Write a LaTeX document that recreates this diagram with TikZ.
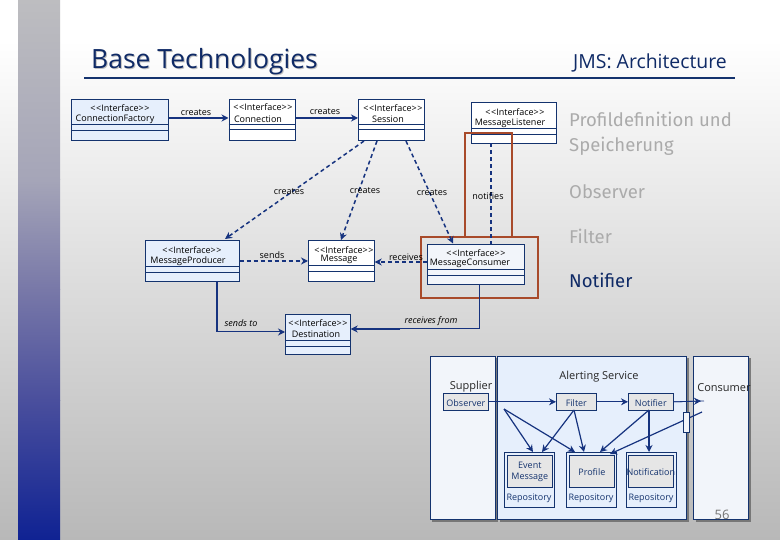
\documentclass[tikz,border=0pt]{standalone}
\usepackage{fontspec}
\setmainfont{Open Sans}
\newfontfamily\bulletfont{Fira Sans}
\usetikzlibrary{arrows.meta,calc}
\definecolor{navy}{HTML}{14336E}
\definecolor{linkblue}{HTML}{16337F}
\definecolor{redbox}{HTML}{A84A2A}
\definecolor{titleblue}{HTML}{0F2A66}
\definecolor{pale}{HTML}{E6EFFC}
\definecolor{palegray}{HTML}{F2F5FA}
\definecolor{graybox}{HTML}{E6E6E6}
\definecolor{fadedtext}{HTML}{ABABAB}
\definecolor{stripA}{HTML}{BDBDC0}
\definecolor{stripB}{HTML}{A5A5B8}
\definecolor{stripC}{HTML}{7878A8}
\definecolor{stripD}{HTML}{4A4F9D}
\definecolor{stripE}{HTML}{0F2293}
\definecolor{bgbottom}{HTML}{B8B8B8}
\tikzset{
  cls/.style={draw=navy,line width=0.7pt,inner sep=0pt,anchor=north west},
  ctext/.style={font=\fontsize{9}{10}\selectfont,text=black,inner sep=0pt,yshift=-0.8pt},
  lab/.style={font=\fontsize{9}{10}\selectfont,text=black,inner sep=0pt,yshift=-0.8pt},
  ital/.style={lab,font=\fontsize{9}{10}\selectfont\itshape},
  solidlink/.style={draw=linkblue,line width=1.8pt,-{Stealth[length=7pt,width=7pt]}},
  thinlink/.style={draw=linkblue,line width=1.2pt,-{Stealth[length=7pt,width=7pt]}},
  dashlink/.style={draw=linkblue,line width=1.5pt,dash pattern=on 4pt off 3pt,-{Stealth[length=7pt,width=7pt]}},
  panel/.style={draw=navy,line width=0.8pt,anchor=north west,inner sep=0pt},
  inbox/.style={draw=navy,line width=0.7pt,fill=graybox,anchor=north west,inner sep=0pt},
  outbox/.style={draw=navy,line width=0.8pt,anchor=north west,inner sep=0pt},
  blab/.style={font=\fontsize{9}{11.5}\selectfont,text=navy,inner sep=0pt,align=center,yshift=-0.8pt},
  head/.style={font=\fontsize{11}{13}\selectfont,text=black!85,inner sep=0pt,yshift=-1.5pt},
  bullet/.style={font=\fontsize{18.5}{25}\selectfont\bulletfont,anchor=west,inner sep=0pt,align=left,yshift=-1pt},
}
\newcommand{\umlcls}[8]{%
  \node[cls,fill=#8,minimum width=#4pt-#2pt,minimum height=#5pt-#3pt] (#1) at (#2,#3) {};
  \draw[navy,line width=0.7pt] (#2,#6) -- (#4,#6) (#2,#7) -- (#4,#7);
}
\newcommand{\shadowpanel}[6]{%
  \fill[black!60,opacity=.8] (#2+2.5,#3+2.5) rectangle (#4+2.5,#5+2.5);
  \node[panel,fill=#6,minimum width=#4pt-#2pt,minimum height=#5pt-#3pt] (#1) at (#2,#3) {};
}
\newcommand{\ifc}{{<}\kern.6pt{<}Interface{>}\kern.6pt{>}}
\begin{document}
\begin{tikzpicture}[x=1pt,y=-1pt]
\useasboundingbox (0,0) rectangle (780,540);
\fill[top color=white,bottom color=bgbottom] (0,40) rectangle (780,540);
\fill[white] (0,0) rectangle (780,40);
\fill[top color=stripA,bottom color=stripB] (18,0) rectangle (60,180);
\fill[top color=stripB,bottom color=stripC] (18,180) rectangle (60,290);
\fill[top color=stripC,bottom color=stripD] (18,290) rectangle (60,400);
\fill[top color=stripD,bottom color=stripE] (18,400) rectangle (60,540);

% titles
\node[font=\fontsize{26.5}{30}\selectfont,text=black!25,anchor=west,inner sep=0pt] (titleshadow) at (92,63) {Base Technologies};
\node[font=\fontsize{26.5}{30}\selectfont,text=titleblue,anchor=west,inner sep=0pt] (title) at (91,62) {Base Technologies};
\node[font=\fontsize{19.4}{22}\selectfont,text=titleblue,anchor=west,inner sep=0pt] (sub) at (573,63) {JMS: Architecture};
\coordinate (ruleL) at (84,78); \coordinate (ruleR) at (735,78);
\draw[navy,line width=1.4pt] (ruleL) -- (ruleR);

% side text
\node[bullet,text=fadedtext] (b1) at (569,133) {Profildefinition und\\Speicherung};
\node[bullet,text=fadedtext] (b2) at (569,191) {Observer};
\node[bullet,text=fadedtext] (b3) at (569,235) {Filter};
\node[bullet,text=titleblue] (b4) at (569,279) {Notifier};

% classes
\umlcls{cf}{71}{99}{168}{140}{124}{130}{pale}
\umlcls{conn}{228.5}{99}{295}{140.5}{124.5}{129.5}{white}
\umlcls{sess}{358}{99}{424}{140}{124}{129}{white}
\umlcls{list}{471}{102}{556}{143}{128.5}{134}{white}
\umlcls{prod}{145}{240}{239}{281}{266}{272}{pale}
\umlcls{msg}{308}{240}{374}{281}{265.5}{271}{white}
\umlcls{dest}{285}{314}{350}{354}{340.5}{346}{pale}
\umlcls{cons}{427}{244}{524}{284}{269.5}{275}{palegray}

\node[ctext] (t1a) at (120,107) {\ifc};
\node[ctext] (t1b) at (115,118.5) {ConnectionFactory};
\node[ctext] (t2a) at (263,106.5) {\ifc};
\node[ctext] (t2b) at (258,118) {Connection};
\node[ctext] (t3a) at (393,107.5) {\ifc};
\node[ctext] (t3b) at (388,118) {Session};
\node[ctext] (t4a) at (515,111) {\ifc};
\node[ctext] (t4b) at (510,122) {MessageListener};
\node[ctext] (t5a) at (192,249) {\ifc};
\node[ctext] (t5b) at (188,260) {MessageProducer};
\node[ctext] (t6a) at (344,249) {\ifc};
\node[ctext] (t6b) at (339,259) {Message};
\node[ctext] (t7a) at (318,322) {\ifc};
\node[ctext] (t7b) at (316,333.5) {Destination};
\node[ctext] (t8a) at (476,252) {\ifc};
\node[ctext] (t8b) at (470,263) {MessageConsumer};

% red highlight
\draw[redbox,line width=1.8pt] (421,237) rectangle (538,298);
\draw[redbox,line width=1.8pt] (465,237) -- (465,133) -- (512,133) -- (512,237);

% connectors
\draw[solidlink] (cf.east |- 0,118) -- (conn.west |- 0,118);
\draw[solidlink] (conn.east |- 0,118) -- (sess.west |- 0,118);
\coordinate (s1) at (364,141); \coordinate (p1) at (225,239);
\coordinate (s2) at (377,141); \coordinate (m1) at (341,240);
\coordinate (s3) at (406,141); \coordinate (c1) at (453,243.5);
\draw[dashlink] (s1) -- (p1);
\draw[dashlink] (s2) -- (m1);
\draw[dashlink] (s3) -- (c1);
\draw[draw=linkblue,line width=1.5pt,dash pattern=on 4pt off 3pt] (491,143.5) -- (491,244);
\draw[dashlink] (prod.east |- 0,261) -- (msg.west |- 0,261);
\draw[dashlink] (cons.west |- 0,262) -- (msg.east |- 0,262);
\draw[draw=linkblue,line width=1.6pt] (217,281) -- (217,332);
\draw[draw=linkblue,line width=1pt,-{Stealth[length=7pt,width=7pt]}] (217,332) -- (dest.west |- 0,332);
\draw[draw=linkblue,line width=1pt] (479,284) -- (479,329) -- (400,329);
\draw[draw=linkblue,line width=1.8pt,-{Stealth[length=7pt,width=7pt]}] (400,329) -- (dest.east |- 0,329);

\node[lab] (l1) at (196,112) {creates};
\node[lab] (l2) at (325,111) {creates};
\node[lab] (l3) at (289,191) {creates};
\node[lab] (l4) at (365,190) {creates};
\node[lab] (l5) at (432,192) {creates};
\node[lab] (l6) at (488,195) {notifies};
\node[lab] (l7) at (272,254) {sends};
\node[lab] (l8) at (406,256) {receives};
\node[ital] (l9) at (241,322) {sends to};
\node[ital] (l10) at (431,320) {receives from};

% lower panels
\shadowpanel{sup}{429.5}{356}{495}{519}{palegray}
\shadowpanel{alert}{497}{356}{686}{519}{pale}
\shadowpanel{cnsm}{693}{356}{748}{519}{palegray}

\node[head] (supl) at (471,385) {Supplier};
\node[head] (alrt) at (599,375) {Alerting Service};
\node[head] (cnl) at (724,386) {Consumer};

\node[inbox,minimum width=45pt,minimum height=17pt] (obs) at (443,393) {};
\node[blab] at (obs.center) {Observer};
\node[inbox,minimum width=40pt,minimum height=17pt] (fil) at (556,393) {};
\node[blab] at (fil.center) {Filter};
\node[inbox,minimum width=45pt,minimum height=17pt] (ntf) at (628,393) {};
\node[blab] at (ntf.center) {Notifier};

\node[outbox,minimum width=50pt,minimum height=55pt] (r1) at (504,452) {};
\node[inbox,minimum width=45pt,minimum height=32pt] (e1) at (507,454.5) {};
\node[blab] at (e1.center) {Event\\Message};
\node[blab] (rl1) at (529,497) {Repository};
\node[outbox,minimum width=50pt,minimum height=55pt] (r2) at (566,452) {};
\node[inbox,minimum width=45pt,minimum height=32pt] (e2) at (569,454.5) {};
\node[blab] at (e2.center) {Profile};
\node[blab] (rl2) at (591,497) {Repository};
\node[outbox,minimum width=50pt,minimum height=55pt] (r3) at (626,452) {};
\node[inbox,minimum width=45pt,minimum height=32pt] (e3) at (628,454.5) {};
\node[blab] at (e3.center) {Notification};
\node[blab] (rl3) at (651,497) {Repository};

% lower connectors
\draw[thinlink,line width=.8pt] (obs.east) -- (fil.west);
\draw[thinlink,line width=.8pt] (fil.east) -- (ntf.west);
\coordinate (nend) at (704,401);
\draw[draw=linkblue,line width=.8pt] (ntf.east) -- (nend);
\draw[thinlink,line width=.8pt] (ntf.east) -- (701,401);
\coordinate (tri) at (504,409);
\draw[thinlink] (tri) -- (533,452);
\draw[thinlink] (tri) -- (575,452);
\coordinate (ff) at (574,410);
\draw[thinlink] (ff) -- (542,452);
\draw[thinlink] (ff) -- (584,452);
\coordinate (nn) at (649,410);
\draw[thinlink] (nn) -- (600,452);
\draw[thinlink] (nn) -- (649,452);
\coordinate (cc) at (702,412);
\draw[thinlink] (cc) -- (610,454);
\node[draw=navy,line width=.7pt,fill=palegray,minimum width=6pt,minimum height=20pt,inner sep=0pt,anchor=north west] (gate) at (683,412) {};

\node[font=\fontsize{13}{14}\selectfont,text=black!55,inner sep=0pt] (pg) at (722,515) {56};
\end{tikzpicture}
\end{document}
